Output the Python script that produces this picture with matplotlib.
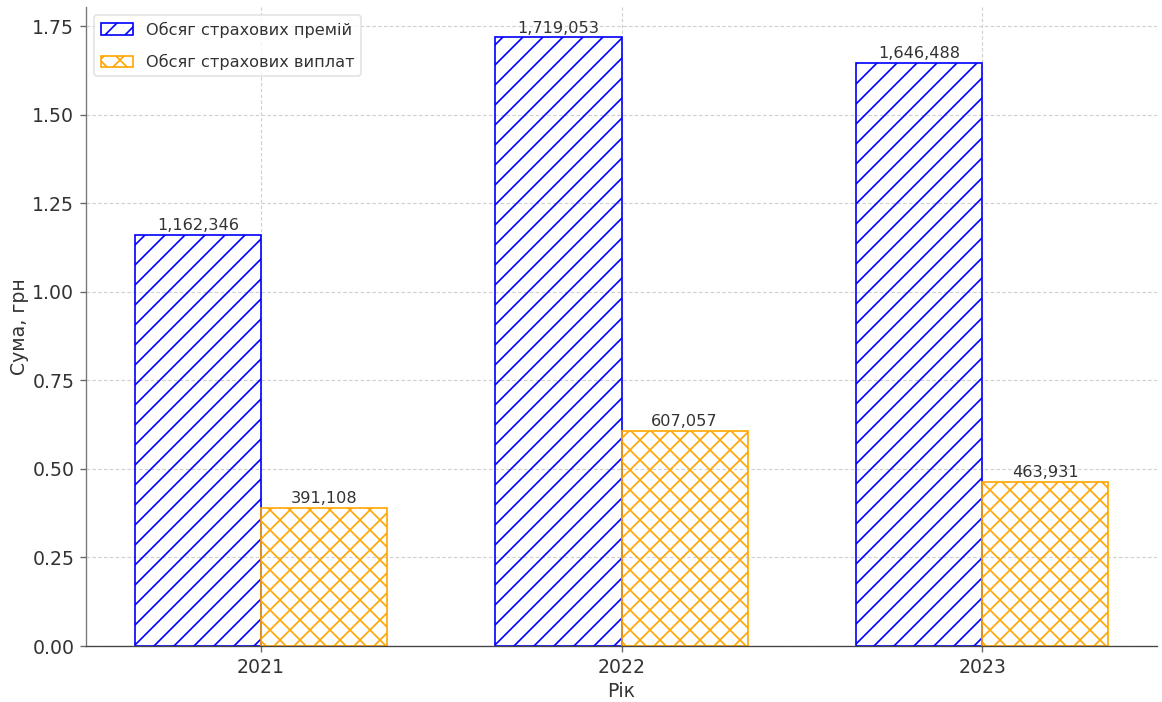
import numpy as np
import matplotlib
matplotlib.use("Agg")
import matplotlib.pyplot as plt

years = ["2021", "2022", "2023"]
premiums = [1162346, 1719053, 1646488]
payouts = [391108, 607057, 463931]

series_labels = ["Обсяг страхових премій", "Обсяг страхових виплат"]

DPI = 120
fig = plt.figure(figsize=(1162 / DPI, 702 / DPI), dpi=DPI)
ax = fig.add_axes([86 / 1162, 56 / 702, (1157 - 86) / 1162, (646 - 7) / 702])

text_color = "#333333"
x = np.arange(len(years))
width = 0.35

b1 = ax.bar(x - width / 2, premiums, width, facecolor="none", edgecolor="blue",
            hatch="//", linewidth=1.0, label=series_labels[0], zorder=2)
b2 = ax.bar(x + width / 2, payouts, width, facecolor="none", edgecolor="orange",
            hatch="xx", linewidth=1.0, label=series_labels[1], zorder=2)

for bars, vals in ((b1, premiums), (b2, payouts)):
    for rect, v in zip(bars, vals):
        ax.annotate(f"{v:,}", (rect.get_x() + rect.get_width() / 2, v),
                    xytext=(0, 1), textcoords="offset points",
                    ha="center", va="bottom", fontsize=9.7, color=text_color)

ax.set_xticks(x)
ax.set_xticklabels(years)
ax.set_yticks(np.arange(0, 1.76e6, 0.25e6))
ax.set_yticklabels([f"{t:.2f}" for t in np.arange(0, 1.76, 0.25)])
ax.tick_params(labelsize=11.3, colors="#666666", labelcolor=text_color)

ax.set_xlabel("Рік", fontsize=11.3, color=text_color, labelpad=3)
ax.set_ylabel("Сума, грн", fontsize=11.3, color=text_color, labelpad=2)

ax.grid(True, linestyle=(0, (3, 2)), color="#d0d0d0", linewidth=0.7, zorder=0)
ax.set_axisbelow(True)
for side in ("top", "right"):
    ax.spines[side].set_visible(False)
ax.spines["left"].set_color("#777777")
ax.spines["bottom"].set_color("#444444")

ax.legend(loc="upper left", fontsize=9.7, frameon=True, edgecolor="#dddddd",
          labelcolor=text_color, labelspacing=1.0)

fig.savefig("out.png", dpi=DPI)
